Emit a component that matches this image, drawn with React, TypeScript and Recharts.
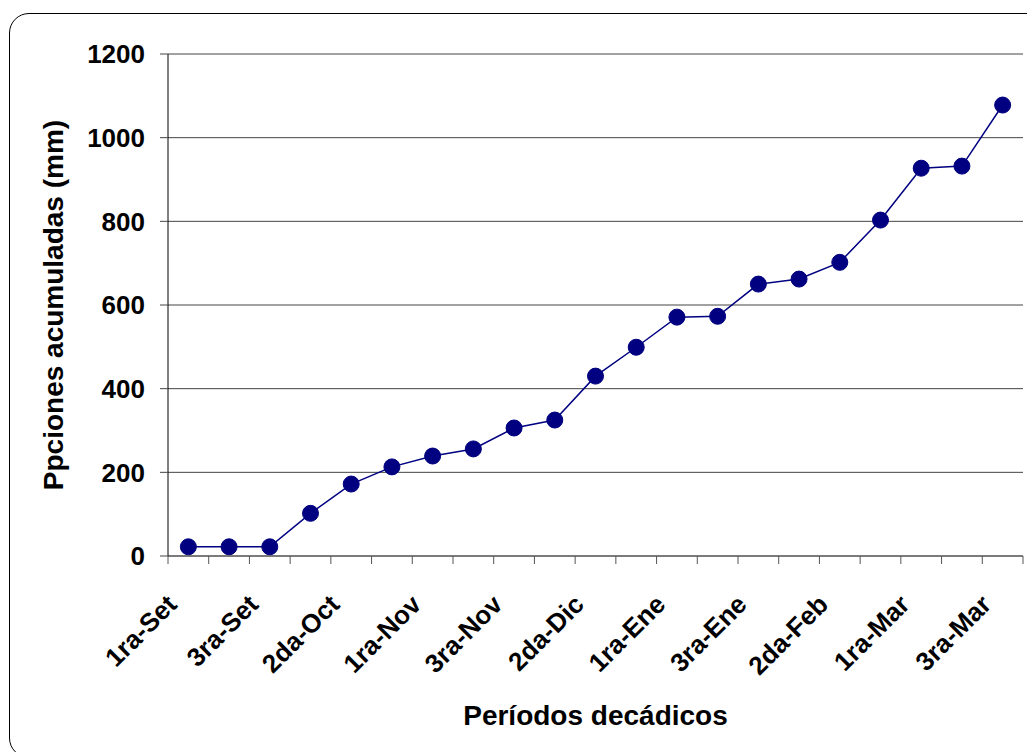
import React from "react";
import { LineChart, Line, XAxis, YAxis, CartesianGrid } from "recharts";

// decadal periods (Sep - Mar) and accumulated rainfall (mm)
const periodos = [
  "1ra-Set", "2da-Set", "3ra-Set",
  "1ra-Oct", "2da-Oct", "3ra-Oct",
  "1ra-Nov", "2da-Nov", "3ra-Nov",
  "1ra-Dic", "2da-Dic", "3ra-Dic",
  "1ra-Ene", "2da-Ene", "3ra-Ene",
  "1ra-Feb", "2da-Feb", "3ra-Feb",
  "1ra-Mar", "2da-Mar", "3ra-Mar",
];
const ppAcumulada = [22, 22, 22, 102, 172, 213, 239, 256, 306, 325, 430, 499, 571, 573, 650, 662, 702, 803, 927, 932, 1078];
const yTicks = [0, 200, 400, 600, 800, 1000, 1200];

const data = periodos.map((p, i) => ({ idx: i, periodo: p, pp: ppAcumulada[i] }));

// tick marks sit between categories, labels on every other category
const xTicks: number[] = [];
for (let i = 0; i <= periodos.length; i++) {
  xTicks.push(i - 0.5);
  if (i < periodos.length && i % 2 === 0) xTicks.push(i);
}

const FONT = "'Liberation Sans', Arial, Helvetica, sans-serif";

function XTick(props: any) {
  const { x, y, payload } = props;
  const v = payload.value;
  if (!Number.isInteger(v)) {
    return <line x1={x} x2={x} y1={y - 8} y2={y} stroke="#555" strokeWidth={1} />;
  }
  const tx = x - 10;
  const ty = y + 42;
  return (
    <text
      x={tx}
      y={ty}
      transform={`rotate(-45, ${tx}, ${ty})`}
      textAnchor="end"
      fontFamily={FONT}
      fontSize={26}
      fontWeight="bold"
      fill="#000"
    >
      {periodos[v]}
    </text>
  );
}

export default function App() {
  return (
    <div style={{ position: "absolute", left: 0, top: 0, width: 1027, height: 752, overflow: "hidden", background: "#fff" }}>
      <div
        style={{
          position: "absolute",
          left: 9,
          top: 13,
          width: 1040,
          height: 745,
          border: "1.5px solid #000",
          borderRadius: 20,
          boxSizing: "border-box",
        }}
      />
      <div style={{ position: "absolute", left: 0, top: 0 }}>
        <LineChart width={1027} height={752} data={data} margin={{ top: 54, right: 4, left: 48, bottom: 16 }}>
          <CartesianGrid vertical={false} stroke="#444" strokeWidth={1} />
          <XAxis
            dataKey="idx"
            type="number"
            domain={[-0.5, 20.5]}
            ticks={xTicks}
            interval={0}
            height={180}
            tickLine={false}
            tickSize={8}
            tickMargin={0}
            tick={<XTick />}
            axisLine={{ stroke: "#555", strokeWidth: 1 }}
            label={{
              value: "Períodos decádicos",
              position: "insideBottom",
              offset: 11,
              style: { fontFamily: FONT, fontSize: 28, fontWeight: "bold", fill: "#000" },
            }}
          />
          <YAxis
            type="number"
            domain={[0, 1200]}
            ticks={yTicks}
            interval={0}
            width={120}
            tickSize={8}
            tickMargin={15}
            tickLine={{ stroke: "#444" }}
            axisLine={{ stroke: "#000", strokeWidth: 1 }}
            tick={{ fontFamily: FONT, fontSize: 26, fontWeight: "bold", fill: "#000" }}
            label={{
              value: "Ppciones acumuladas (mm)",
              angle: -90,
              position: "insideLeft",
              offset: 5,
              style: { textAnchor: "middle", fontFamily: FONT, fontSize: 28, fontWeight: "bold", fill: "#000" },
            }}
          />
          <Line
            dataKey="pp"
            type="linear"
            stroke="#000080"
            strokeWidth={1.5}
            dot={{ r: 8, fill: "#000080", stroke: "#000080", strokeWidth: 1 }}
            activeDot={false}
            isAnimationActive={false}
          />
        </LineChart>
      </div>
    </div>
  );
}
